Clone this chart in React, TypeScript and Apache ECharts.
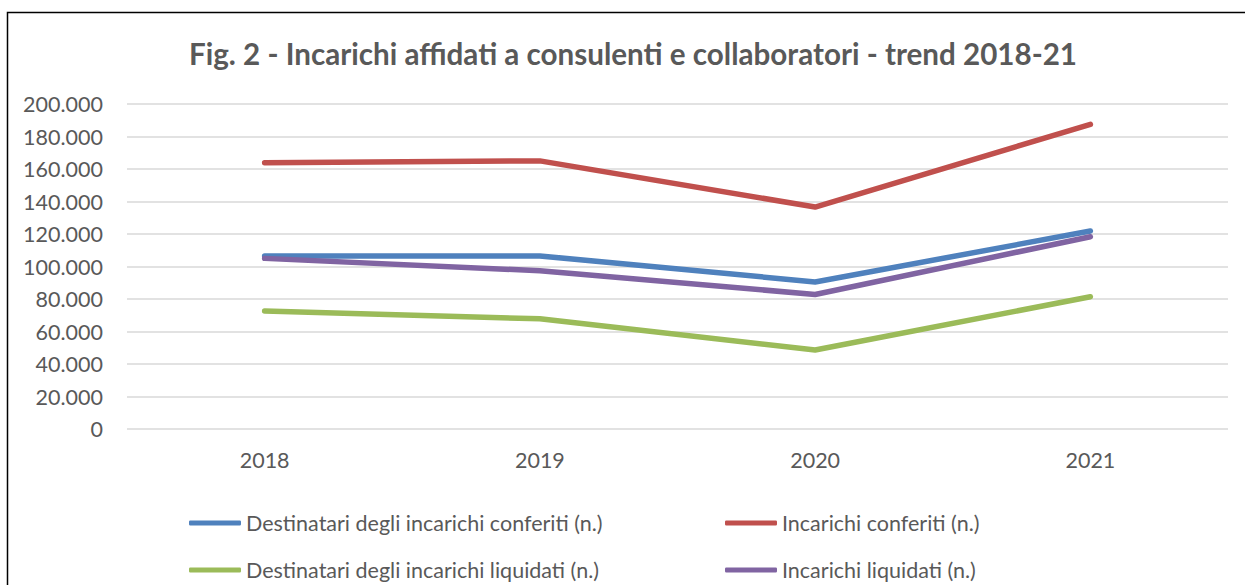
import React, { useEffect, useRef } from "react";
import * as echarts from "echarts";

const TITLE = "Fig. 2 - Incarichi affidati a consulenti e collaboratori - trend 2018-21";
const years = ["2018", "2019", "2020", "2021"];
const seriesNames = [
  "Destinatari degli incarichi conferiti (n.)",
  "Incarichi conferiti (n.)",
  "Destinatari degli incarichi liquidati (n.)",
  "Incarichi liquidati (n.)",
];
const destConferiti = [106500, 106500, 90500, 121800];
const incConferiti = [163800, 165000, 136600, 187500];
const destLiquidati = [72600, 67800, 48600, 81400];
const incLiquidati = [105000, 97400, 82800, 118300];
const colors = ["#4f81bd", "#c0504d", "#9bbb59", "#8064a2"];

const FONT = "Lato";
const GREY = "#595959";
const LABEL_SIZE = 21.5;

function fmt(v: number): string {
  return String(Math.round(v)).replace(/\B(?=(\d{3})+(?!\d))/g, ".");
}

export default function App() {
  const ref = useRef<HTMLDivElement>(null);
  useEffect(() => {
    if (!ref.current) return;
    const chart = echarts.init(ref.current, null, { renderer: "svg" });
    const values = [destConferiti, incConferiti, destLiquidati, incLiquidati];
    const legendCommon = {
      orient: "horizontal" as const,
      icon: "roundRect",
      itemWidth: 52,
      itemHeight: 5,
      textStyle: { color: GREY, fontSize: LABEL_SIZE, fontFamily: FONT },
    };
    const legendPos = [
      { left: 184, top: 507 },
      { left: 720, top: 507 },
      { left: 184, top: 554 },
      { left: 720, top: 554 },
    ];
    chart.setOption({
      animation: false,
      backgroundColor: "#ffffff",
      title: {
        text: TITLE,
        left: 184,
        top: 33,
        textStyle: { color: GREY, fontSize: 29.6, fontWeight: "bold", fontFamily: FONT },
      },
      graphic: [
        {
          type: "rect",
          shape: { x: 7.5, y: 12.5, width: 1300, height: 700 },
          style: { fill: "none", stroke: "#000000", lineWidth: 1.5 },
          silent: true,
        },
      ],
      legend: seriesNames.map((name, i) => ({ ...legendCommon, ...legendPos[i], data: [name] })),
      grid: { left: 127, right: 17, top: 104, bottom: 156, containLabel: false },
      xAxis: {
        type: "category",
        data: years,
        boundaryGap: true,
        axisLine: { show: false },
        axisTick: { show: false },
        axisLabel: { color: GREY, fontSize: LABEL_SIZE, fontFamily: FONT, margin: 20 },
      },
      yAxis: {
        type: "value",
        min: 0,
        max: 200000,
        interval: 20000,
        axisLine: { show: false },
        axisTick: { show: false },
        splitLine: { lineStyle: { color: "#d9d9d9", width: 1.5 } },
        axisLabel: {
          color: GREY,
          fontSize: LABEL_SIZE,
          fontFamily: FONT,
          margin: 24,
          formatter: (v: number) => fmt(v),
        },
      },
      series: seriesNames.map((name, i) => ({
        name,
        type: "line",
        data: values[i],
        symbol: "none",
        showSymbol: false,
        color: colors[i],
        lineStyle: { color: colors[i], width: 5.5, cap: "round", join: "round" },
        z: i === 3 ? 3 : 2,
      })),
    });
    return () => chart.dispose();
  }, []);
  return (
    <div
      ref={ref}
      style={{ position: "fixed", left: 0, top: 0, width: 1245, height: 585, background: "#fff" }}
    />
  );
}
